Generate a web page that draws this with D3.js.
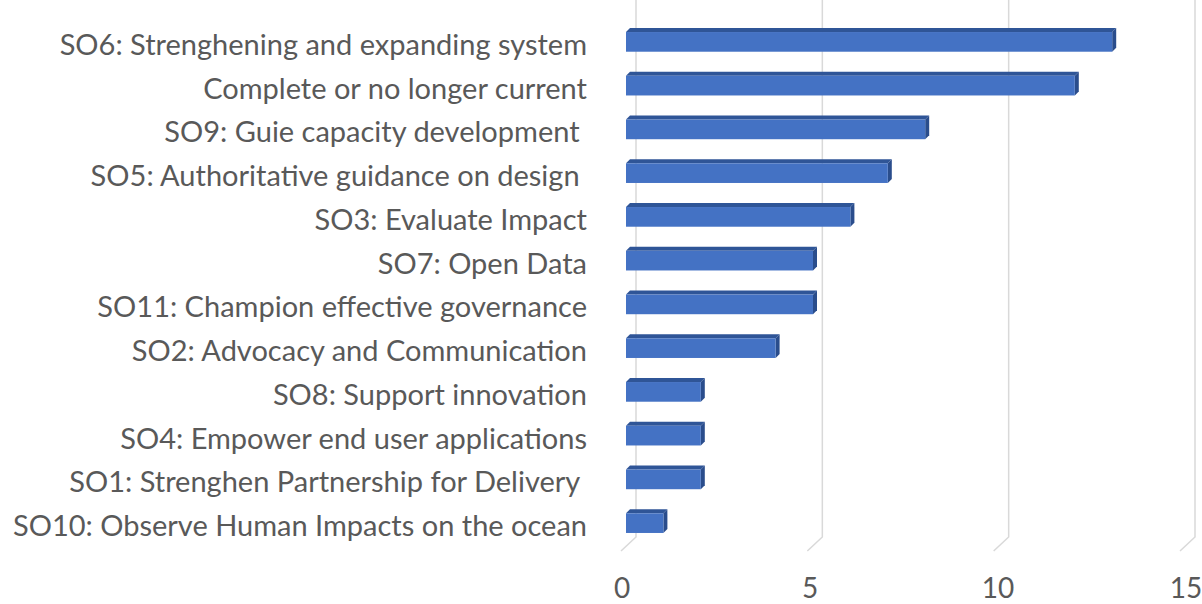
<!DOCTYPE html>
<html>
<head>
<meta charset="utf-8">
<script src="https://cdn.jsdelivr.net/npm/d3@7"></script>
<style>
  body { margin: 0; background: #fff; }
  text { font-family: Lato, "Open Sans", sans-serif; fill: #595959; white-space: pre; }
</style>
</head>
<body>
<svg width="1202" height="604"></svg>
<script>
// chart data (top to bottom)
var categories = [
    'SO6: Strenghening and expanding system',
    'Complete or no longer current',
    'SO9: Guie capacity development ',
    'SO5: Authoritative guidance on design ',
    'SO3: Evaluate Impact',
    'SO7: Open Data',
    'SO11: Champion effective governance',
    'SO2: Advocacy and Communication',
    'SO8: Support innovation',
    'SO4: Empower end user applications',
    'SO1: Strenghen Partnership for Delivery ',
    'SO10: Observe Human Impacts on the ocean'
];
var values = [13, 12, 8, 7, 6, 5, 5, 4, 2, 2, 2, 1];
var ticks = [0, 5, 10, 15];

var svg = d3.select('svg');

// 3d look: bars in front, gridlines on the back wall
var depth = 4;
var xFront = d3.scaleLinear().domain([0, 15]).range([626, 1187]);
var xBack = d3.scaleLinear().domain([0, 15]).range([636, 1195]);
var xLabel = d3.scaleLinear().domain([0, 15]).range([622, 1186]);
var y = d3.scaleBand().domain(categories).range([20, 545])
    .paddingInner(0.55).paddingOuter(0.275);

var wallBottom = 537;
var floorDx = -15, floorDy = 14;

// gridlines on the back wall + floor diagonal
var grid = svg.append('g').attr('class', 'gridLines');
ticks.forEach(function (t) {
    var xb = xBack(t);
    grid.append('path')
        .attr('d', 'M' + xb + ',0 L' + xb + ',' + wallBottom + ' L' + (xb + floorDx) + ',' + (wallBottom + floorDy))
        .attr('fill', 'none')
        .attr('stroke', '#d9d9d9')
        .attr('stroke-width', 1.5);
});

// tick labels
svg.append('g').selectAll('text')
    .data(ticks)
    .enter().append('text')
    .attr('x', function (d) { return xLabel(d); })
    .attr('y', 598)
    .attr('text-anchor', 'middle')
    .attr('font-size', 28)
    .text(function (d) { return d; });

// bars
var bars = svg.append('g').attr('class', 'bars')
    .selectAll('g')
    .data(categories)
    .enter().append('g');

bars.each(function (c, i) {
    var g = d3.select(this);
    var x0 = xFront(0), x1 = xFront(values[i]);
    var y0 = y(c), h = y.bandwidth();
    // top face
    g.append('path')
        .attr('d', 'M' + x0 + ',' + y0 + ' L' + x1 + ',' + y0 + ' L' + (x1 + depth) + ',' + (y0 - depth) +
            ' L' + (x0 + depth) + ',' + (y0 - depth) + 'Z')
        .attr('fill', '#2f5597');
    // side face
    g.append('path')
        .attr('d', 'M' + x1 + ',' + y0 + ' L' + (x1 + depth) + ',' + (y0 - depth) + ' L' + (x1 + depth) + ',' + (y0 + h - depth) +
            ' L' + x1 + ',' + (y0 + h) + 'Z')
        .attr('fill', '#2a4d8c');
    // front face
    g.append('rect')
        .attr('x', x0)
        .attr('y', y0)
        .attr('width', x1 - x0)
        .attr('height', h)
        .attr('fill', '#4472c4');
});

// category labels
svg.append('g').selectAll('text')
    .data(categories)
    .enter().append('text')
    .attr('x', 587)
    .attr('y', function (d) { return y(d) + y.bandwidth() / 2 + 13; })
    .attr('text-anchor', 'end')
    .attr('font-size', 29)
    .text(function (d) { return d; });
</script>
</body>
</html>
